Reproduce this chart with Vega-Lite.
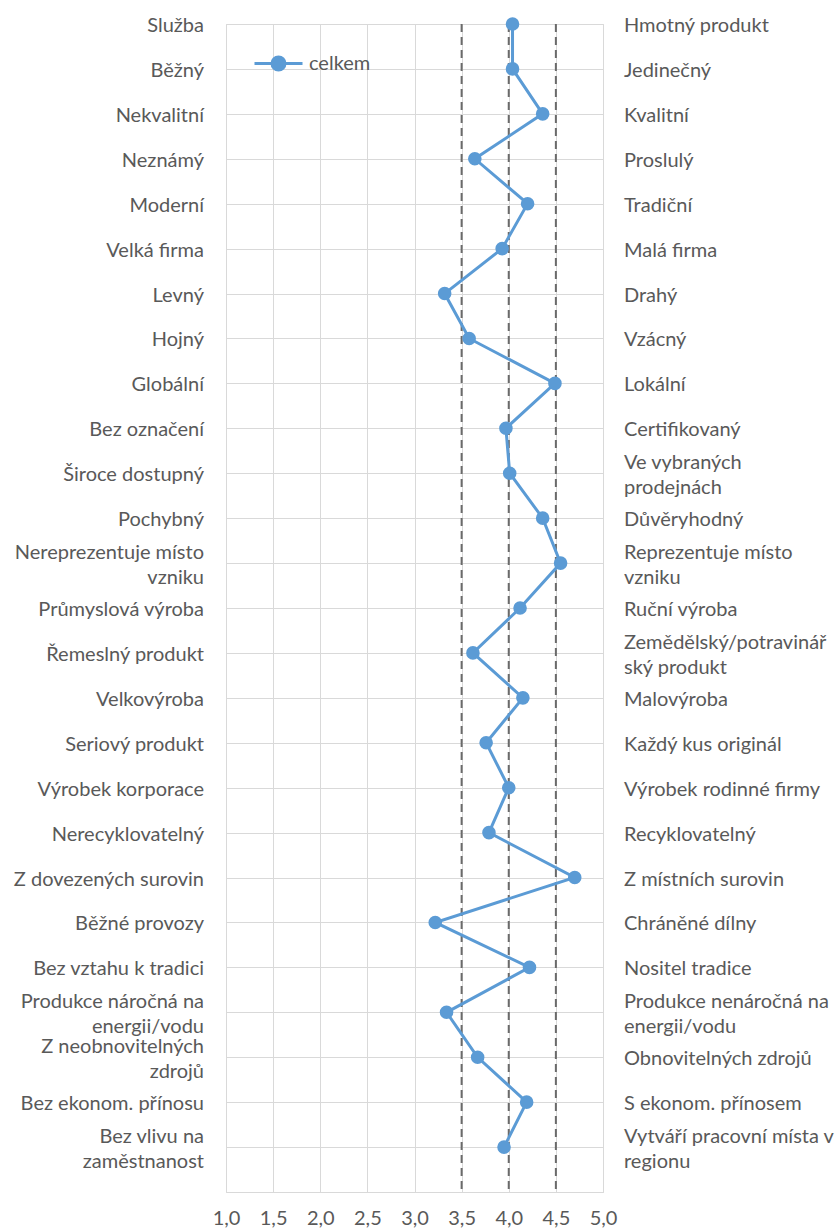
{
  "$schema": "https://vega.github.io/schema/vega-lite/v6.json",
  "autosize": "none",
  "width": 377,
  "height": 1168,
  "padding": {"left": 226, "top": 24, "right": 232, "bottom": 38},
  "background": "white",
  "config": {
    "font": "Lato",
    "view": {"stroke": "#d9d9d9", "strokeWidth": 1},
    "axis": {"gridColor": "#d9d9d9", "gridWidth": 1, "domain": false, "ticks": false, "title": null},
    "text": {"baseline": "middle", "fontSize": 20, "color": "#595959", "lineBreak": "\n", "lineHeight": 25}
  },
  "datasets": {
    "rows": [
      {"idx": 0, "left": "Služba", "right": "Hmotný produkt", "value": 4.04, "serie": "celkem"},
      {"idx": 1, "left": "Běžný", "right": "Jedinečný", "value": 4.04, "serie": "celkem"},
      {"idx": 2, "left": "Nekvalitní", "right": "Kvalitní", "value": 4.36, "serie": "celkem"},
      {"idx": 3, "left": "Neznámý", "right": "Proslulý", "value": 3.64, "serie": "celkem"},
      {"idx": 4, "left": "Moderní", "right": "Tradiční", "value": 4.20, "serie": "celkem"},
      {"idx": 5, "left": "Velká firma", "right": "Malá firma", "value": 3.93, "serie": "celkem"},
      {"idx": 6, "left": "Levný", "right": "Drahý", "value": 3.32, "serie": "celkem"},
      {"idx": 7, "left": "Hojný", "right": "Vzácný", "value": 3.58, "serie": "celkem"},
      {"idx": 8, "left": "Globální", "right": "Lokální", "value": 4.49, "serie": "celkem"},
      {"idx": 9, "left": "Bez označení", "right": "Certifikovaný", "value": 3.97, "serie": "celkem"},
      {"idx": 10, "left": "Široce dostupný", "right": "Ve vybraných\nprodejnách", "value": 4.01, "serie": "celkem"},
      {"idx": 11, "left": "Pochybný", "right": "Důvěryhodný", "value": 4.36, "serie": "celkem"},
      {"idx": 12, "left": "Nereprezentuje místo\nvzniku", "right": "Reprezentuje místo\nvzniku", "value": 4.55, "serie": "celkem"},
      {"idx": 13, "left": "Průmyslová výroba", "right": "Ruční výroba", "value": 4.12, "serie": "celkem"},
      {"idx": 14, "left": "Řemeslný produkt", "right": "Zemědělský/potravinář\nský produkt", "value": 3.62, "serie": "celkem"},
      {"idx": 15, "left": "Velkovýroba", "right": "Malovýroba", "value": 4.15, "serie": "celkem"},
      {"idx": 16, "left": "Seriový produkt", "right": "Každý kus originál", "value": 3.76, "serie": "celkem"},
      {"idx": 17, "left": "Výrobek korporace", "right": "Výrobek rodinné firmy", "value": 4.00, "serie": "celkem"},
      {"idx": 18, "left": "Nerecyklovatelný", "right": "Recyklovatelný", "value": 3.79, "serie": "celkem"},
      {"idx": 19, "left": "Z dovezených surovin", "right": "Z místních surovin", "value": 4.70, "serie": "celkem"},
      {"idx": 20, "left": "Běžné provozy", "right": "Chráněné dílny", "value": 3.22, "serie": "celkem"},
      {"idx": 21, "left": "Bez vztahu k tradici", "right": "Nositel tradice", "value": 4.22, "serie": "celkem"},
      {"idx": 22, "left": "Produkce náročná na\nenergii/vodu", "right": "Produkce nenáročná na\nenergii/vodu", "value": 3.34, "serie": "celkem"},
      {"idx": 23, "left": "Z neobnovitelných\nzdrojů", "right": "Obnovitelných zdrojů", "value": 3.67, "serie": "celkem"},
      {"idx": 24, "left": "Bez ekonom. přínosu", "right": "S ekonom. přínosem", "value": 4.19, "serie": "celkem"},
      {"idx": 25, "left": "Bez vlivu na\nzaměstnanost", "right": "Vytváří pracovní místa v\nregionu", "value": 3.95, "serie": "celkem"}
    ],
    "refs": [{"ref": 3.5}, {"ref": 4.0}, {"ref": 4.5}]
  },
  "layer": [
    {
      "data": {"name": "refs"},
      "mark": {"type": "rule", "color": "#6a6a6a", "strokeWidth": 2, "strokeDash": [8, 5]},
      "encoding": {
        "x": {"field": "ref", "type": "quantitative", "scale": {"domain": [1, 5], "nice": false, "zero": false},
          "axis": {"values": [1, 1.5, 2, 2.5, 3, 3.5, 4, 4.5, 5], "labelExpr": "replace(format(datum.value, '.1f'), '.', ',')", "labelFontSize": 20, "labelColor": "#595959", "labelPadding": 16, "labelFlush": false, "labelOverlap": false, "grid": true}}
      }
    },
    {
      "data": {"name": "rows"},
      "mark": {"type": "line", "strokeWidth": 3, "point": {"filled": true, "size": 185, "opacity": 1}},
      "encoding": {
        "x": {"field": "value", "type": "quantitative"},
        "y": {"field": "idx", "type": "quantitative", "scale": {"domain": [0, 26], "reverse": true, "nice": false, "zero": false},
          "axis": {"values": [0,1,2,3,4,5,6,7,8,9,10,11,12,13,14,15,16,17,18,19,20,21,22,23,24,25,26], "labels": false, "grid": true}},
        "order": {"field": "idx"},
        "color": {"field": "serie", "type": "nominal", "scale": {"range": ["#5B9BD5"]},
          "legend": {"orient": "none", "legendX": 27, "legendY": 14, "title": null, "padding": 0,
            "symbolType": "M-1,0H1M-0.27,0A0.27,0.27,0,1,1,0.27,0A0.27,0.27,0,1,1,-0.27,0Z",
            "symbolSize": 2304, "symbolStrokeWidth": 3, "symbolStrokeColor": "#5B9BD5", "symbolFillColor": "#5B9BD5",
            "labelFontSize": 20, "labelColor": "#595959", "labelOffset": 5}}
      }
    },
    {
      "data": {"name": "rows"},
      "transform": [{"filter": "indexof(datum.left, '\\n') < 0"}],
      "mark": {"type": "text", "align": "right", "dx": -22, "dy": 2},
      "encoding": {
        "x": {"datum": 1, "type": "quantitative"},
        "y": {"field": "idx", "type": "quantitative"},
        "text": {"field": "left"}
      }
    },
    {
      "data": {"name": "rows"},
      "transform": [{"filter": "indexof(datum.left, '\\n') >= 0"}],
      "mark": {"type": "text", "align": "right", "dx": -22, "dy": -10},
      "encoding": {
        "x": {"datum": 1, "type": "quantitative"},
        "y": {"field": "idx", "type": "quantitative"},
        "text": {"field": "left"}
      }
    },
    {
      "data": {"name": "rows"},
      "transform": [{"filter": "indexof(datum.right, '\\n') < 0"}],
      "mark": {"type": "text", "align": "left", "dx": 21, "dy": 2},
      "encoding": {
        "x": {"datum": 5, "type": "quantitative"},
        "y": {"field": "idx", "type": "quantitative"},
        "text": {"field": "right"}
      }
    },
    {
      "data": {"name": "rows"},
      "transform": [{"filter": "indexof(datum.right, '\\n') >= 0"}],
      "mark": {"type": "text", "align": "left", "dx": 21, "dy": -10},
      "encoding": {
        "x": {"datum": 5, "type": "quantitative"},
        "y": {"field": "idx", "type": "quantitative"},
        "text": {"field": "right"}
      }
    }
  ]
}
